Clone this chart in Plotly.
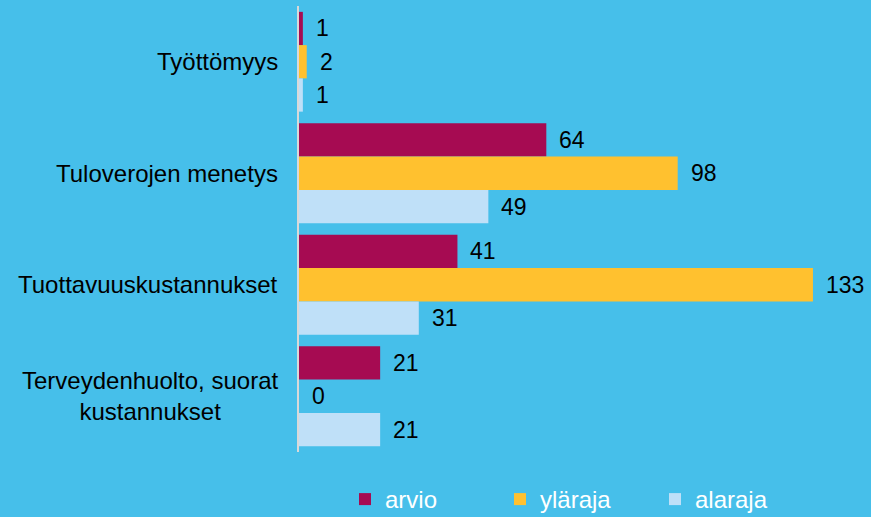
import plotly.graph_objects as go

categories = ["Työttömyys", "Tuloverojen menetys", "Tuottavuuskustannukset",
              "Terveydenhuolto, suorat<br>kustannukset"]
series_names = ["arvio", "yläraja", "alaraja"]
arvio = [1, 64, 41, 21]
ylaraja = [2, 98, 133, 0]
alaraja = [1, 49, 31, 21]
colors = ["#A60B52", "#FFC12F", "#BFE0F8"]

FONT = "Liberation Sans, Arial"
values = [arvio, ylaraja, alaraja]
fig = go.Figure()
for name, vals, col in zip(series_names, values, colors):
    fig.add_trace(go.Bar(y=categories, x=vals, name=name, orientation="h",
                         marker=dict(color=col, line=dict(width=0))))

# value labels
bar_px = 33.5
for i, vals in enumerate(values):
    for cat, v in zip(categories, vals):
        fig.add_annotation(x=v, y=cat, text=str(v), showarrow=False,
                           xanchor="left", yanchor="middle", xshift=11,
                           yshift=(1 - i) * bar_px,
                           font=dict(size=23, color="#000000", family=FONT))

# category labels (centered multi-line)
for cat in categories:
    fig.add_annotation(x=0, xref="paper", y=cat, text=cat, showarrow=False,
                       xanchor="right", yanchor="middle", xshift=-19, align="center",
                       font=dict(size=24, color="#000000", family=FONT))

fig.update_layout(
    width=871, height=517,
    margin=dict(l=299, r=31, t=6, b=65, autoexpand=False),
    paper_bgcolor="#46BFEA", plot_bgcolor="#46BFEA",
    barmode="group", bargap=0.105, bargroupgap=0,
    font=dict(family=FONT, size=23, color="#000000"),
    xaxis=dict(range=[0, 140], showgrid=False, zeroline=False, showticklabels=False,
               showline=False, ticks=""),
    yaxis=dict(autorange="reversed", showticklabels=False, showgrid=False, zeroline=False,
               showline=True, linecolor="#D9D9D9", linewidth=2, ticks=""),
    legend=dict(orientation="h", x=0.085, xanchor="left", y=-70 / 446, yanchor="bottom",
                font=dict(size=24, color="#FFFFFF", family=FONT), entrywidth=110,
                entrywidthmode="pixels", bgcolor="rgba(0,0,0,0)"),
    showlegend=True,
)

fig.write_html("out.html", config={"displayModeBar": False},
               post_script="document.body.style.margin='0';")
